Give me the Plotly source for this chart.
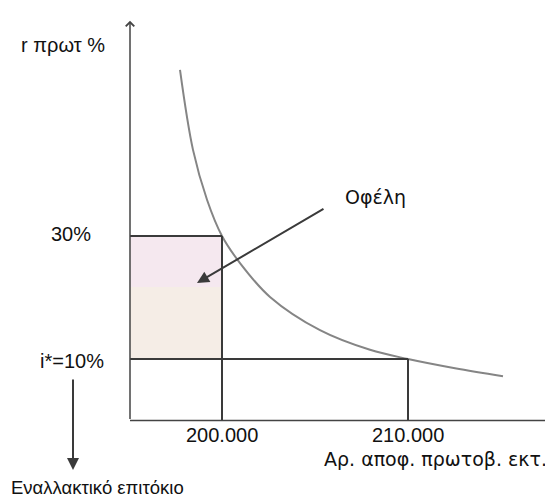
import plotly.graph_objects as go

# data
curve_q = [197742, 198441, 199194, 200000, 200968, 202580, 205268, 207957, 210000, 212527, 215107]
curve_r = [57.0, 44.0, 35.9, 30.0, 25.6, 20.1, 14.7, 11.5, 10.0, 8.5, 7.2]
q_levels = [200000, 210000]
q_labels = ["200.000", "210.000"]
r_levels = [30, 10]
r_labels = ["30%", "i*=10%"]
band_split = 21.7  # where the shading changes tone

# frame (axis origin and view)
x0 = 195054
y_top = 65
x_range = [188495, 217795]
y_range = [-12.76, 67.07]

# page has an 8px body margin, so the figure is drawn 8px smaller
OFF = 8
W, H = 553 - OFF, 499 - OFF
def px(x, y, anchor="center"):
    return dict(x=(x - OFF) / W, y=1 - (y - OFF) / H, xref="paper", yref="paper",
                xanchor=anchor, yanchor="middle")

fig = go.Figure()

# curve
fig.add_trace(go.Scatter(x=curve_q, y=curve_r, mode="lines",
                         line=dict(color="#858585", width=2, shape="spline"),
                         hoverinfo="skip", showlegend=False))

# shaded benefit area
fig.add_shape(type="rect", x0=x0, x1=q_levels[0], y0=band_split, y1=r_levels[0],
              fillcolor="#f5e8ef", line_width=0, layer="below")
fig.add_shape(type="rect", x0=x0, x1=q_levels[0], y0=r_levels[1], y1=band_split,
              fillcolor="#f5ede6", line_width=0, layer="below")

dark = "#3a3a3a"
# level lines
fig.add_shape(type="line", x0=x0, x1=q_levels[0], y0=r_levels[0], y1=r_levels[0],
              line=dict(color=dark, width=2))
fig.add_shape(type="line", x0=x0, x1=q_levels[1], y0=r_levels[1], y1=r_levels[1],
              line=dict(color=dark, width=2))
fig.add_shape(type="line", x0=q_levels[0], x1=q_levels[0], y0=0, y1=r_levels[0],
              line=dict(color=dark, width=2))
fig.add_shape(type="line", x0=q_levels[1], x1=q_levels[1], y0=0, y1=r_levels[1],
              line=dict(color=dark, width=2))

# axes
fig.add_shape(type="line", x0=x0, x1=x_range[1], y0=0, y1=0,
              line=dict(color="#444444", width=1.5))
fig.add_annotation(x=x0, y=y_top, ax=x0, ay=0, xref="x", yref="y", axref="x", ayref="y",
                   text="", showarrow=True, arrowhead=4, arrowsize=1.1, arrowwidth=1.5,
                   arrowcolor="#444444", standoff=0)

font = dict(family="Liberation Sans, Arial, sans-serif", size=20, color="#111111")
font_wide = dict(family="DejaVu Sans, sans-serif", size=19, color="#111111")

# x tick labels
for q, lab in zip(q_levels, q_labels):
    fig.add_annotation(x=q, y=1 - (435 - OFF) / H, xref="x", yref="paper", text=lab,
                       xanchor="center", yanchor="middle", showarrow=False, font=font)

# y labels
fig.add_annotation(**px(71, 234), text=r_labels[0], showarrow=False, font=font)
fig.add_annotation(**px(72, 361), text=r_labels[1], showarrow=False, font=font)
fig.add_annotation(**px(63, 45), text="r πρωτ %", showarrow=False, font=font)
fig.add_annotation(**px(435, 459), text="Αρ. αποφ. πρωτοβ. εκτ.", showarrow=False, font=font_wide)
fig.add_annotation(**px(9, 487, "left"), text="Εναλλακτικό επιτόκιο", showarrow=False,
                   font=dict(font, size=18.5))

# benefit arrow
fig.add_annotation(x=198656, y=22.36, ax=205537, ay=34.55, xref="x", yref="y",
                   axref="x", ayref="y", text="", showarrow=True, arrowhead=2,
                   arrowsize=1.2, arrowwidth=2, arrowcolor=dark, standoff=0)
fig.add_annotation(**px(375, 197), text="Οφέλη", showarrow=False, font=font_wide)

# down arrow under i*
fig.add_annotation(**px(73, 470), ax=0, ay=-92, text="", showarrow=True, arrowhead=2,
                   arrowsize=1.2, arrowwidth=2, arrowcolor=dark, standoff=0)

fig.update_layout(width=W, height=H, margin=dict(l=0, r=0, t=0, b=0),
                  paper_bgcolor="white", plot_bgcolor="white",
                  xaxis=dict(range=x_range, visible=False),
                  yaxis=dict(range=y_range, visible=False))

fig.write_html("out.html")
